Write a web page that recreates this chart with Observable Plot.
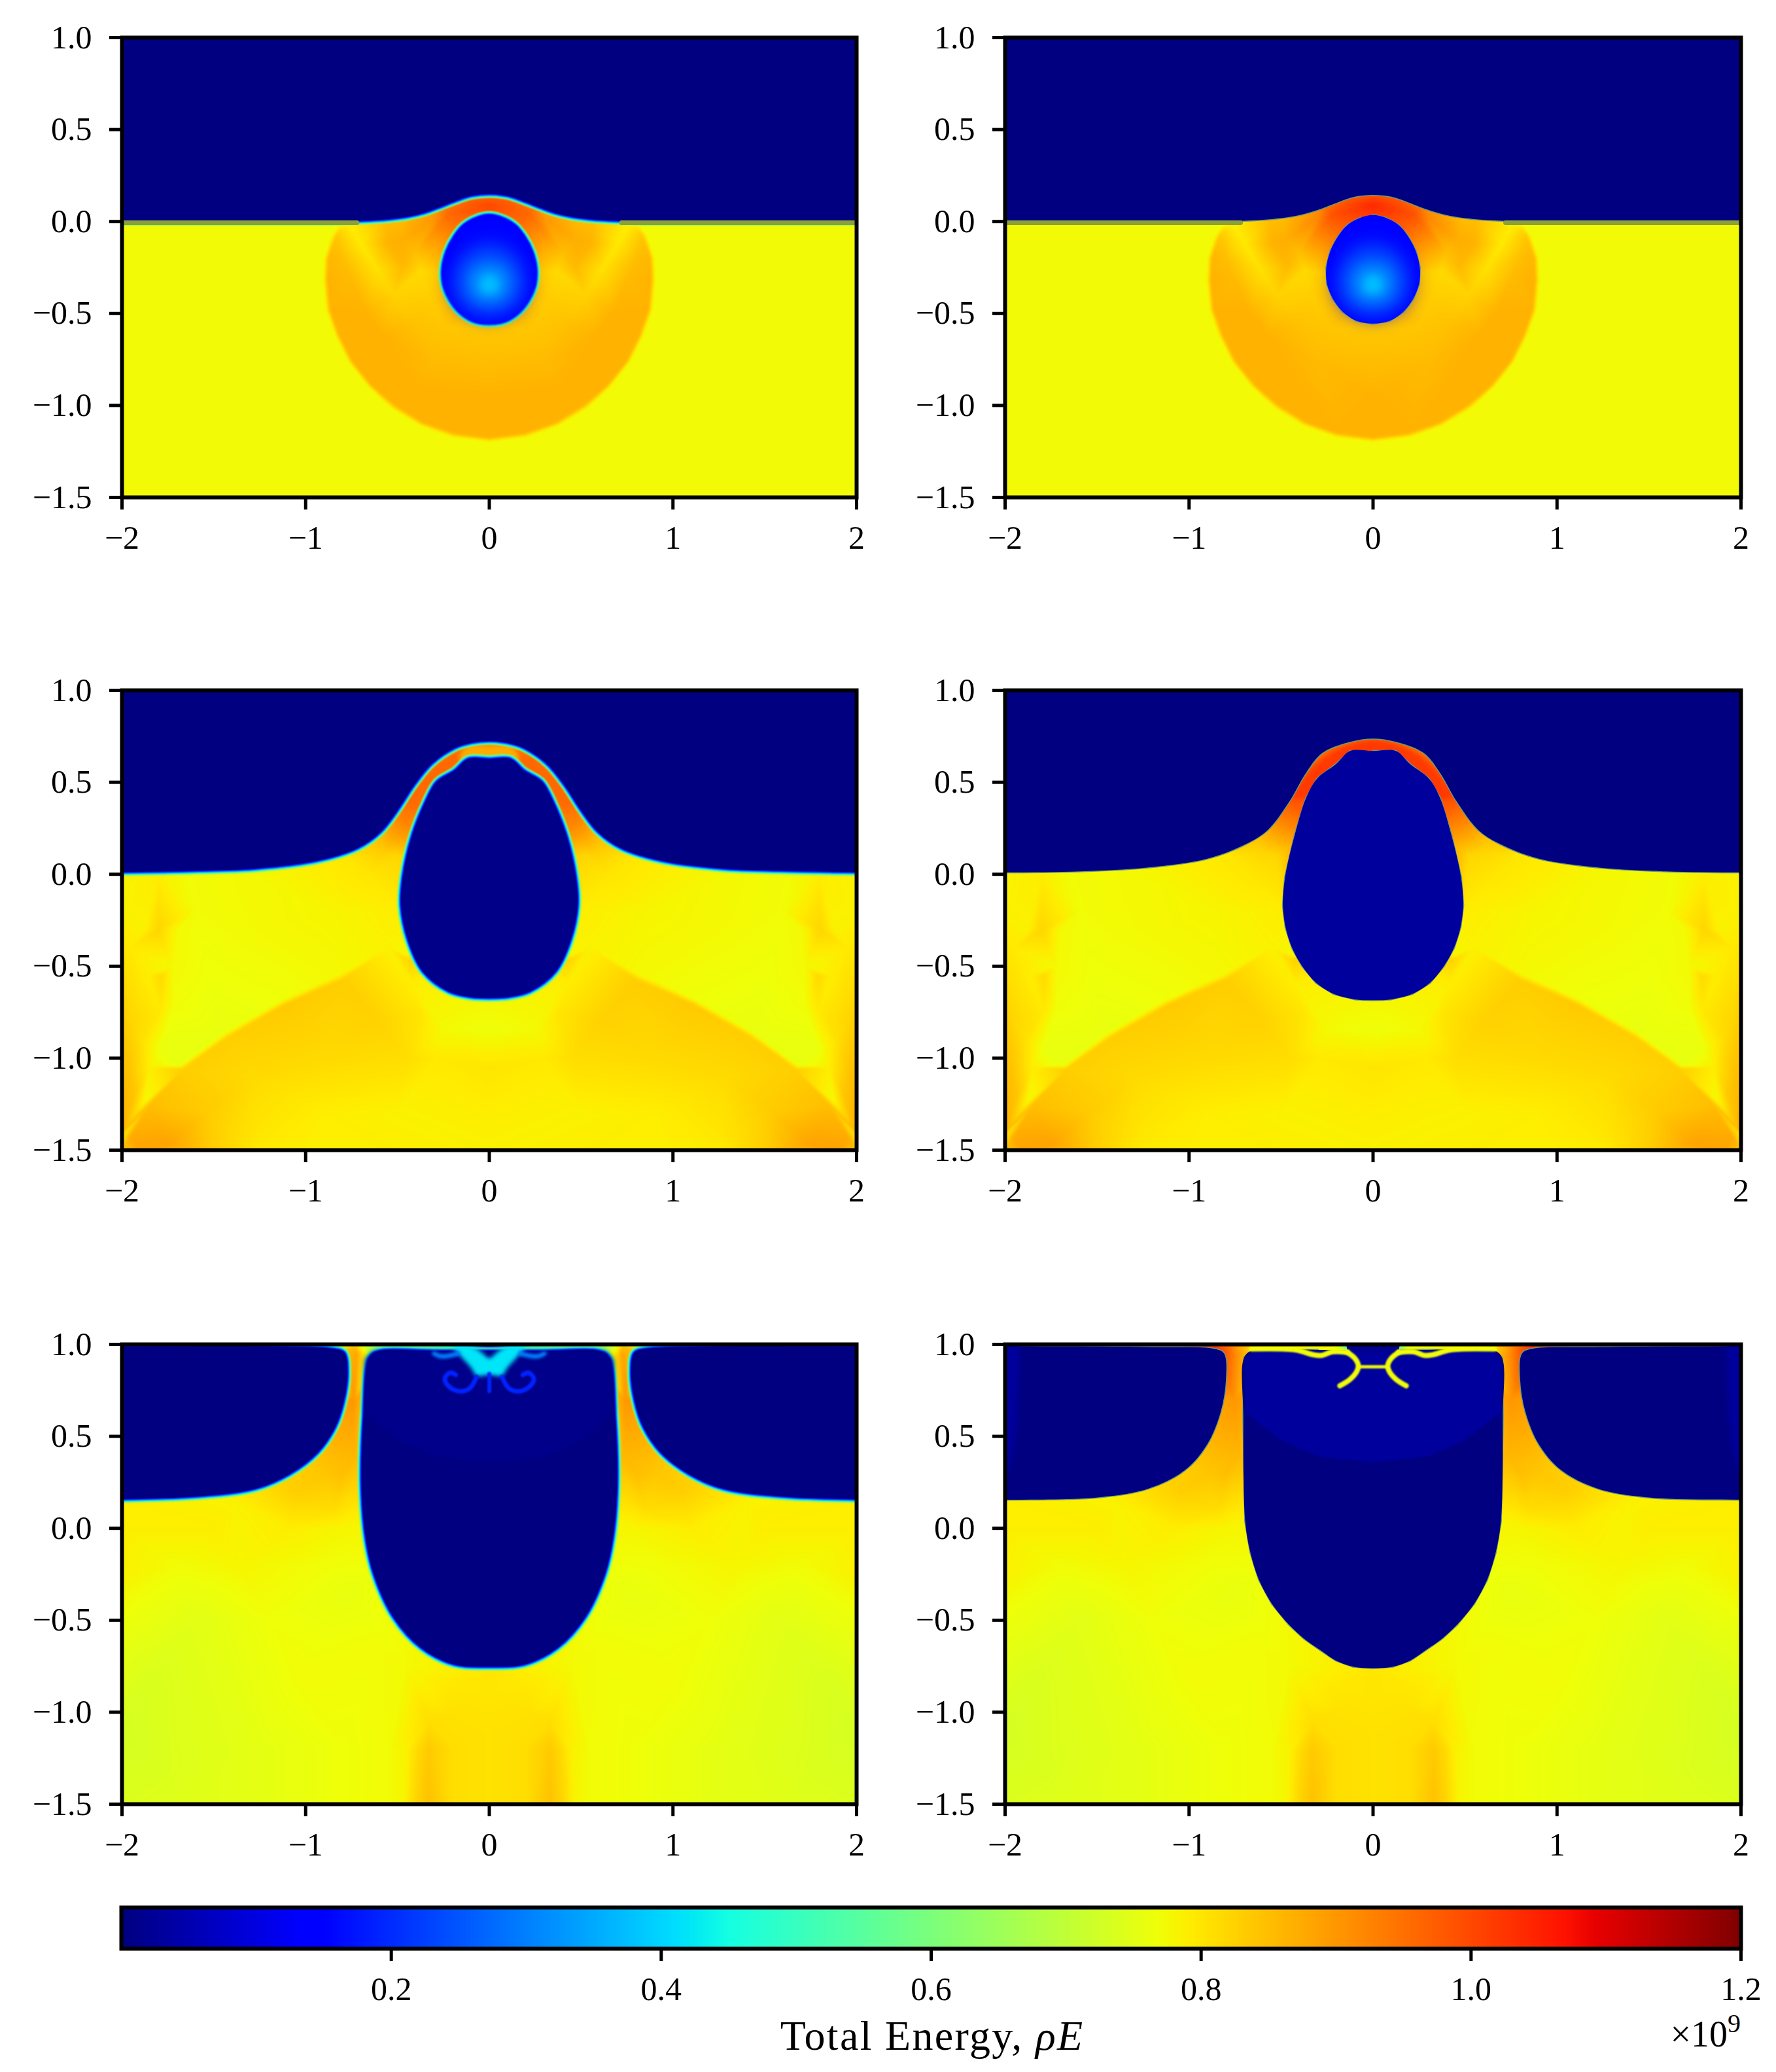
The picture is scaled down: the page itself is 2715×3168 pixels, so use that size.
<!DOCTYPE html>
<html><head><meta charset="utf-8">
<script src="https://cdn.jsdelivr.net/npm/d3@7"></script>
<script src="https://cdn.jsdelivr.net/npm/@observablehq/plot@0.6"></script>
<style>
html,body{margin:0;padding:0;background:#fff}
#page{position:relative;width:2715px;height:3168px;overflow:hidden;font-family:"Liberation Serif",serif;color:#000}
#page svg{display:block;max-width:none;background:transparent}
.abs{position:absolute}
</style></head>
<body><div id="page"></div>
<script>
// ---- axis ticks ----
const xTicks=[-2,-1,0,1,2];
const yTicks=[-1.5,-1,-0.5,0,0.5,1];
const barTicks=[0.2,0.4,0.6,0.8,1.0,1.2];
const energyDomain=[0,1.2];

// ---- jet colormap stops (position, r, g, b) ----
const jetR=[[0,0],[.35,0],[.66,1],[.89,1],[1,.5]];
const jetG=[[0,0],[.125,0],[.375,1],[.64,1],[.91,0],[1,0]];
const jetB=[[0,.5],[.11,1],[.34,1],[.65,0],[1,0]];

// ---- interfaces, right half (x, y) ----
const surface1=[[0,.15],[.1,.14],[.19,.11],[.28,.075],[.36,.047],[.44,.028],[.55,.013],[.7,.004],[.85,0],[1.4,0],[2.06,0],[3,0]];
const surface2=[[0,.145],[.1,.135],[.19,.105],[.28,.07],[.36,.045],[.44,.027],[.55,.013],[.7,.004],[.85,0],[1.4,0],[2.06,0],[3,0]];
const bubble1=[[0,.035],[.07,.02],[.14,-.02],[.19,-.08],[.232,-.16],[.254,-.25],[.25,-.34],[.218,-.42],[.165,-.49],[.09,-.54],[0,-.555]];
const surface3=[[0,.725],[.1,.715],[.19,.686],[.315,.6],[.41,.485],[.5,.348],[.593,.23],[.717,.143],[.934,.075],[1.27,.032],[1.58,.02],[2.06,.012],[3,.012]];
const cavity3=[[0,.627],[.115,.627],[.19,.563],[.285,.504],[.346,.397],[.423,.2],[.47,-.013],[.48,-.17],[.44,-.364],[.36,-.53],[.22,-.637],[.1,-.667],[0,-.672]];
const surface4=[[0,.738],[.125,.72],[.275,.66],[.364,.552],[.454,.397],[.573,.24],[.693,.163],[.9,.085],[1.23,.036],[1.59,.016],[2.06,.01],[3,.01]];
const cavity4=[[0,.67],[.125,.67],[.2,.6],[.304,.52],[.364,.415],[.424,.22],[.478,-.015],[.49,-.17],[.475,-.29],[.44,-.4],[.385,-.5],[.31,-.59],[.215,-.65],[.1,-.68],[0,-.685]];
const air5=[[3,.988],[2.06,.988],[1.2,.988],[.85,.975],[.79,.955],[.773,.842],[.794,.686],[.84,.55],[.934,.413],[1.088,.295],[1.27,.217],[1.58,.175],[2.06,.158],[3,.158]];
const cavity5=[[0,.963],[.3,.963],[.6,.963],[.65,.93],[.685,.608],[.695,.217],[.672,-.056],[.628,-.25],[.52,-.485],[.37,-.65],[.19,-.74],[0,-.752]];
const air6=[[3,.99],[2.06,.99],[1.2,.985],[.86,.975],[.81,.95],[.8,.803],[.83,.627],[.904,.452],[1.024,.315],[1.218,.217],[1.487,.169],[2.06,.155],[3,.155]];
const cavity6=[[0,.97],[.3,.97],[.65,.97],[.7,.93],[.705,.608],[.695,.04],[.666,-.134],[.62,-.28],[.55,-.41],[.457,-.524],[.375,-.6],[.29,-.66],[.2,-.72],[.11,-.752],[0,-.76]];

// ---- bubble core contours (x, y), one per energy level ----
const core1=[[0,-.1],[.14,-.16],[.2,-.3],[.17,-.44],[0,-.52]];
const core2=[[0,-.17],[.12,-.22],[.16,-.33],[.12,-.44],[0,-.48]];
const core3=[[0,-.24],[.08,-.27],[.1,-.34],[.07,-.41],[0,-.43]];
const core4=[[0,-.29],[.04,-.31],[.05,-.35],[.04,-.38],[0,-.39]];
const coreLevels=[.2,.26,.32,.37];

// ---- cap between surface and cavity (x, y) ----
const cap3=[[0,.72],[.19,.68],[.315,.6],[.41,.485],[.44,.42],[.3,.4],[0,.4]];
const cap3Centre=[[0,.7],[.13,.69],[.16,.62],[0,.6]];
const cap4=[[0,.74],[.19,.69],[.315,.6],[.41,.485],[.45,.42],[.3,.4],[0,.4]];

// ---- liquid energy samples, right half (x, y, energy / 1e9) ----
const waveOuter=[[2,1,.773],[1,.5,.773],[2,.0,.773],[2,-.75,.773],[2,-1.5,.773],[1,-1.5,.773],[0,-1.5,.773],[1.4,0,.773],[1.4,-.7,.773],[1.2,-1.2,.773],[.8,-1.3,.773],
 [.8,.0,.773],[.86,-.08,.773],[.9,-.2,.773],[.905,-.32,.773],[.89,-.48,.773],[.84,-.62,.773],[.77,-.76,.773],[.66,-.9,.773],[.53,-1.02,.773],[.38,-1.11,.773],[.2,-1.175,.773],[0,-1.2,.773]];
const waveInner=[[.835,-.08,.84],[.875,-.2,.86],[.88,-.32,.865],[.865,-.48,.865],[.815,-.62,.865],[.745,-.76,.865],[.64,-.89,.865],[.51,-1,.865],[.365,-1.09,.865],[.19,-1.15,.865],[0,-1.175,.865],
 [.76,-.02,.79],[.7,-.12,.795],[.62,-.25,.805],[.52,-.4,.825],[.4,-.55,.845],[.8,-.2,.85],[.76,-.3,.855],[.67,-.5,.865],[.58,-.62,.865],
 [.57,0,.85],[.55,-.12,.865],[.47,-.25,.855],[.47,-.1,.87],[.4,-.17,.85],[.37,-.27,.815],[.33,-.4,.83],[.24,-.57,.84],[0,-.6,.84],[0,-.75,.85],[.3,-.77,.855],[0,-.95,.865],[.4,-.9,.865]];
const waveCap1=[[.3,.02,.9],[.22,.04,.96],[0,.09,1.0],[0,.16,.95],[.15,.12,.96],[.3,.12,.9],[.5,.1,.84],[0,-.3,.9]];
const waveCap2=[[.3,.02,.92],[.22,.04,.99],[0,.09,1.04],[0,.16,.98],[.15,.12,.98],[.3,.12,.9],[.5,.1,.84],[0,-.3,.9]];

const arcSamples=[[.45,-.44,.78],[.82,-.548,.776],[1.13,-.685,.768],[1.44,-.86,.76],[1.685,-1.037,.757],[1.87,-1.23,.775],[1.985,-1.41,.8],
 [.43,-.47,.825],[.8,-.575,.83],[1.11,-.71,.835],[1.42,-.885,.83],[1.665,-1.06,.83],[1.85,-1.255,.85],[1.955,-1.43,.875],
 [.6,-.8,.825],[.9,-1,.815],[.45,-1,.81],[1.3,-1.1,.815],[1.55,-1.3,.835],[1.75,-1.47,.885],[1.9,-1.5,.885],[1.5,-1.5,.83],[1.25,-1.5,.795],[.9,-1.3,.79],[.5,-1.3,.785],[0,-1.3,.79],[0,-1.5,.785],[.6,-1.5,.79],[1,-1.5,.79],[0,-1.05,.8],[0,-.85,.768],[.25,-.85,.775],[.38,-.75,.8],[.42,-.6,.79],[.3,-1,.795],
 [.5,-.2,.79],[.55,-.4,.785],[.65,0,.8],[.9,-.2,.78],[1.2,-.3,.776],[1.3,0,.776],[1.6,-.2,.772],[1.5,-.6,.766],[1.65,0,.772],
 [1.8,0,.79],[1.7,-.3,.775],[1.8,-.3,.82],[1.88,-.3,.785],[1.72,-.5,.775],[1.79,-.55,.815],[1.86,-.55,.79],[1.72,-.72,.77],[1.79,-.75,.795],[1.78,-.95,.76],[1.9,-.9,.81],[1.85,-1.05,.79],[1.95,0,.785],[1.95,-.4,.795],[1.95,-.8,.82],[1.97,-1.1,.85],[1.93,-1.2,.84],[2,-1.4,.865],[2,-1.5,.84],[2,-.2,.785],[2,.1,.785],
 [1.2,.5,.775],[2,1,.78],[.8,1,.775]];
const arcCentre3=[[0,.1,.9],[0,-.3,.8],[0,1,.85],[.44,.4,.96],[.47,.3,.93],[.52,.2,.88],[.58,.12,.83],[.75,.08,.8],[.4,.2,.9],[.62,.3,.88],[.5,.1,.82]];
const arcCentre4=[[0,.1,.95],[0,-.3,.8],[0,1,.9],[.46,.4,.98],[.49,.3,.93],[.54,.2,.87],[.6,.12,.82],[.75,.08,.8],[.4,.2,.9],[.65,.3,.88],[.52,.1,.82]];

const pillarSamples=[[1.5,.6,.8],[0,.3,.8],[.9,.3,.84],[1.05,.2,.83],[.85,.1,.81],[1.4,.14,.785],[2,.14,.79],[.8,0,.78],[1.1,0,.79],[1.5,0,.79],[2,0,.79],[.9,-.2,.77],[1.35,-.2,.78],[1.7,-.2,.772],[2,-.25,.785],[.75,-.35,.76],[1.2,-.5,.768],[1.6,-.5,.75],[2,-.5,.765],[.6,-.65,.772],[1,-.8,.772],[1.5,-.8,.75],[1.9,-.9,.735],[2,-1.1,.73],[.45,-.75,.775],[.25,-.85,.795],[0,-.8,.8],[0,-.9,.8],[.2,-1,.805],[0,-1.1,.805],[.3,-.95,.795],[.33,-1.05,.81],[.33,-1.2,.835],[.33,-1.5,.845],[.39,-1.2,.815],[.39,-1.5,.825],[.45,-1.2,.785],[.47,-1.5,.78],[.55,-1.2,.772],[.55,-1.5,.772],[.2,-1.2,.81],[.2,-1.5,.81],[0,-1.3,.805],[0,-1.5,.805],[.8,-1.2,.768],[.8,-1.5,.768],[1.3,-1.2,.752],[1.3,-1.5,.752],[1.8,-1.3,.738],[2,-1.5,.74],[1.7,-1.5,.745]];
const top5=[[0,1,.13],[.13,1,.35],[.2,1,.42],[.4,.99,.55],[.6,.99,.6],[.3,.96,.55],[.6,.96,.6],[.68,.97,.75],[.73,.99,.85],[.78,.97,.85],[.85,.99,.7],[1.2,1,.55],[2,1,.55],[.72,.95,.88],[.74,.7,.9],[.73,.4,.86],[.8,.3,.85]];
const top6=[[0,1,.05],[.2,1,.77],[.4,.99,.78],[.6,.99,.78],[.3,.96,.77],[.6,.96,.77],[.7,.98,.85],[.76,.99,.92],[.8,.97,.98],[.9,.995,1.05],[1.2,1,.95],[1.5,1,.6],[2,1,.3],[.75,.95,.92],[.75,.7,.9],[.73,.4,.86],[.8,.3,.85]];

// ---- top splash in the cavity (x, y) ----
const splash5=[[0,.925],[.04,.955],[.1,.99],[.19,.985],[.15,.93],[.1,.875],[.068,.83],[0,.835]];
const curl5=[[.07,.822],[.105,.763],[.165,.745],[.224,.775],[.242,.816],[.212,.846],[.183,.834]];
const stem5=[[0,.84],[0,.745]];
const lip5=[[.17,.95],[.26,.935],[.3,.95]];
const glow5=[[0,.96],[.63,.96],[.675,.92],[.675,.63],[.5,.48],[.3,.39],[0,.36]];
const glow6=[[0,.96],[.65,.96],[.695,.92],[.695,.63],[.5,.48],[.3,.39],[0,.36]];
const glowAir6=[[1.92,1.02],[2.06,1.02],[2.06,.16],[1.96,.4],[1.93,.7]];
const run6=[[.14,.957],[.22,.96],[.28,.94],[.33,.945],[.42,.97],[.66,.975]];
const arm6=[[.14,.957],[.1,.925],[.08,.885],[.09,.85],[.125,.81],[.18,.775]];
const bar6=[[0,.878],[.07,.878]];
const gap6=[[-.15,1.03],[.15,1.03],[.14,.965],[-.14,.965]];
const flatLine=[[.72,-.006],[2.06,-.006]];

// ---- helpers ----
const channel=s=>d3.scaleLinear(s.map(d=>d[0]),s.map(d=>d[1]));
const [cr,cg,cb]=[channel(jetR),channel(jetG),channel(jetB)];
const jet=t=>`rgb(${Math.round(255*cr(t))},${Math.round(255*cg(t))},${Math.round(255*cb(t))})`;
const mirror=([x,...r])=>[-x,...r];
const both=h=>[...h,...h.filter(d=>d[0]!==0).map(mirror)];
const open=h=>[...h.filter(d=>d[0]!==0).map(mirror).reverse(),...h];
const closed=h=>[...h,...h.slice(1,-1).reverse().map(mirror)];
const blurOf=b=>b?`blur(${b}px)`:undefined;
const X=d=>d[0],Y=d=>d[1];
const blob=(pts,v,blur=0,curve="catmull-rom-closed")=>Plot.line(pts,{x:X,y:Y,fill:()=>v,stroke:"none",curve,clip:true,imageFilter:blurOf(blur)});
const rim=(pts,v,w,curve="catmull-rom-closed",blur=.8)=>Plot.line(pts,{x:X,y:Y,stroke:()=>v,fill:"none",strokeWidth:w,curve,clip:true,strokeLinejoin:"round",imageFilter:blurOf(blur)});
const liquid=s=>Plot.raster(both(s),{x:X,y:Y,fill:d=>d[2],interpolate:"barycentric",pixelSize:2,imageRendering:"auto",x1:-2,x2:2,y1:-1.5,y2:1,clip:true,imageFilter:"blur(1.5px)"});
const airShape=h=>[...open(h),[3,1.5],[-3,1.5]];
const bandLeft=(p,curve)=>[rim(p,.6,12,curve),rim(p,.42,8,curve),rim(p,.14,4,curve)];
const bandRight=(p,curve)=>[Plot.line(p,{x:X,y:Y,stroke:"#6f9a78",fill:"none",strokeWidth:3,curve,clip:true,imageFilter:"blur(.7px)"})];
const olive=p=>Plot.line(p,{x:X,y:Y,stroke:"#8ba03c",strokeWidth:7,clip:true,imageFilter:"blur(.7px)"});
const fmtY=d3.format(".1f"),fmtX=d3.format("d");

function panel(col,rowTop,marks){
  const p=Plot.plot({
    width:1360,height:860,marginLeft:186,marginRight:col?49:51,marginTop:57,marginBottom:100,
    x:{domain:[-2,2],ticks:xTicks},y:{domain:[-1.5,1],ticks:yTicks},
    color:{type:"linear",domain:energyDomain,interpolate:jet},
    style:{fontFamily:"'Liberation Serif',serif",background:"transparent"},
    marks:[...marks,
      Plot.frame({stroke:"#000",strokeWidth:6}),
      Plot.axisX(xTicks,{tickSize:19,tickPadding:24,strokeWidth:5,stroke:"#000",fontSize:50,fontFamily:"Liberation Serif",tickFormat:fmtX,label:null}),
      Plot.axisY(yTicks,{tickSize:19,tickPadding:27,strokeWidth:5,stroke:"#000",fontSize:50,fontFamily:"Liberation Serif",tickFormat:fmtY,label:null})
    ]});
  const w=document.createElement("div");w.className="abs";
  w.style.left=(col?1350:0)+"px";w.style.top=(rowTop-57)+"px";
  w.appendChild(p);document.getElementById("page").appendChild(w);
}

const coreMarks=()=>[core1,core2,core3,core4].map((c,i)=>blob(closed(c),coreLevels[i],[14,12,9,6][i]));

// panel 1
{const air=airShape(surface1),b=closed(bubble1);
panel(0,57,[liquid([...waveOuter,...waveInner,...waveCap1]),...bandLeft(air,"catmull-rom"),blob(air,0,.6,"catmull-rom"),
  olive(flatLine),olive(flatLine.map(mirror)),
  ...bandLeft(b),blob(b,.14,.6),...coreMarks()]);}
// panel 2
{const air=airShape(surface2),b=closed(bubble1);
panel(1,57,[liquid([...waveOuter,...waveInner,...waveCap2]),...bandRight(air,"catmull-rom"),blob(air,0,.6,"catmull-rom"),
  olive(flatLine),olive(flatLine.map(mirror)),
  ...bandRight(b),blob(b,.14,.6),...coreMarks()]);}
// panel 3
{const air=airShape(surface3),c=closed(cavity3);
panel(0,1055,[liquid([...arcSamples,...arcCentre3]),blob(closed(cap3),.96,6),blob(closed(cap3Centre),.875,3),...bandLeft(air,"catmull-rom"),...bandLeft(c),blob(air,0,.6,"catmull-rom"),blob(c,.01,.6)]);}
// panel 4
{const air=airShape(surface4),c=closed(cavity4);
panel(1,1055,[liquid([...arcSamples,...arcCentre4]),blob(closed(cap4),1.02,5),...bandRight(air,"catmull-rom"),...bandRight(c),blob(air,0,.6,"catmull-rom"),blob(c,.03,.6)]);}
// panel 5
{const r=air5,l=air5.map(mirror),c=closed(cavity5);
panel(0,2055,[liquid([...pillarSamples,...top5]),...bandLeft(r,"catmull-rom"),...bandLeft(l,"catmull-rom"),...bandLeft(c),
  blob(r,0,.6,"catmull-rom"),blob(l,0,.6,"catmull-rom"),blob(c,0,.6),blob(closed(glow5),.012,4,"linear-closed"),
  blob(closed(splash5),.42,3),
  ...[curl5,curl5.map(mirror)].map(p=>rim(p,.19,7,"catmull-rom",1.2)),rim(stem5,.19,6,"linear",1.2),
  ...[lip5,lip5.map(mirror)].map(p=>rim(p,.3,7,"catmull-rom",2))]);}
// panel 6
{const r=air6,l=air6.map(mirror),c=closed(cavity6);
panel(1,2055,[liquid([...pillarSamples,...top6]),...bandRight(r,"catmull-rom"),...bandRight(l,"catmull-rom"),...bandRight(c),
  blob(r,0,.6,"catmull-rom"),blob(l,0,.6,"catmull-rom"),blob(c,0,.6),
  blob(closed(glow6),.03,1.5,"linear-closed"),blob(glowAir6,.03,4,"catmull-rom"),blob(glowAir6.map(mirror),.03,4,"catmull-rom"),
  blob(gap6,.02,.6,"linear-closed"),
  ...[run6,run6.map(mirror),arm6,arm6.map(mirror)].map(p=>rim(p,.77,8,"catmull-rom",.8)),
  rim(open(bar6),.77,5,"linear",.8)]);}

// colour bar
{const p=Plot.plot({
  width:2715,height:172,marginLeft:185,marginRight:54,marginTop:5,marginBottom:104,
  x:{domain:energyDomain,ticks:barTicks},y:{domain:[0,1],axis:null},
  color:{type:"linear",domain:energyDomain,interpolate:jet},
  style:{fontFamily:"'Liberation Serif',serif",background:"transparent"},
  marks:[
    Plot.raster({fill:(x,y)=>x,x1:0,x2:1.2,y1:0,y2:1,pixelSize:1,imageRendering:"auto"}),
    Plot.frame({stroke:"#000",strokeWidth:6}),
    Plot.axisX(barTicks,{tickSize:19,tickPadding:24,strokeWidth:5,stroke:"#000",fontSize:50,fontFamily:"Liberation Serif",tickFormat:fmtY,label:null})
  ]});
 const w=document.createElement("div");w.className="abs";w.style.left="0px";w.style.top="2911px";w.appendChild(p);document.getElementById("page").appendChild(w);
}
const t=document.createElement("div");t.className="abs";
t.style.cssText="left:1025px;width:800px;top:3078px;text-align:center;font-size:64px;line-height:70px;letter-spacing:2.3px;white-space:nowrap";
t.innerHTML='Total Energy, <i>ρE</i>';document.getElementById("page").appendChild(t);
const e=document.createElement("div");e.className="abs";
e.style.cssText="right:54px;top:3080px;font-size:56px;line-height:60px;white-space:nowrap;text-align:right";
e.innerHTML='×10<sup style="font-size:40px;line-height:0;position:relative;top:-2px">9</sup>';document.getElementById("page").appendChild(e);
</script></body></html>
